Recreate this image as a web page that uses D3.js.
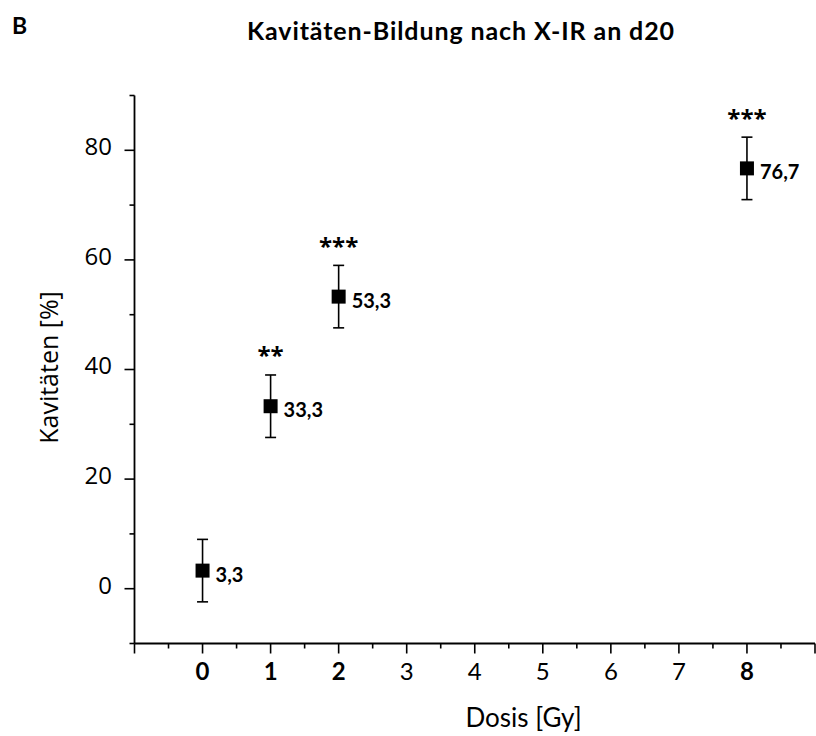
<!DOCTYPE html>
<html>
<head>
<meta charset="utf-8">
<script src="https://cdn.jsdelivr.net/npm/d3@7"></script>
<style>
  body { margin: 0; background: #fff; }
  svg { display: block; }
  text { fill: #000; }
</style>
</head>
<body>
<svg id="chart" width="816" height="736"></svg>
<script>
const doses = [0, 1, 2, 8];
const means = [3.3, 33.3, 53.3, 76.7];
const errors = [5.7, 5.7, 5.7, 5.7];
const valueLabels = ["3,3", "33,3", "53,3", "76,7"];
const stars = ["", "**", "***", "***"];
const xTickValues = [0, 1, 2, 3, 4, 5, 6, 7, 8];
const boldXTicks = [0, 1, 2, 8];
const yTickValues = [0, 20, 40, 60, 80];

const svg = d3.select("#chart");
const x = d3.scaleLinear().domain([-1, 9]).range([134.5, 815]);
const y = d3.scaleLinear().domain([-10, 90]).range([643.5, 95.5]);

const sans = "Lato, 'Open Sans', sans-serif";
const ySans = "'Open Sans', 'Noto Sans', sans-serif";

// Title and panel letter
svg.append("text").attr("x", 12).attr("y", 34)
  .style("font-family", sans).style("font-weight", "bold").style("font-size", "23px")
  .text("B");
svg.append("text").attr("x", 247).attr("y", 40)
  .style("font-family", sans).style("font-weight", "bold").style("font-size", "25px")
  .style("letter-spacing", "0.9px")
  .text("Kavitäten-Bildung nach X-IR an d20");

// X axis
const xMajor = d3.range(-1, 9.001, 1);
const xMinor = d3.range(-0.5, 9, 1);
const gx = svg.append("g").attr("transform", `translate(0,${y(-10)})`);
gx.append("line").attr("x1", x(-1)).attr("x2", x(9)).attr("stroke", "#000").attr("stroke-width", 1.8);
gx.selectAll("line.maj").data(xMajor).join("line").attr("class", "maj")
  .attr("x1", d => x(d)).attr("x2", d => x(d)).attr("y1", 0).attr("y2", 10)
  .attr("stroke", "#000").attr("stroke-width", 1.6);
gx.selectAll("line.min").data(xMinor).join("line").attr("class", "min")
  .attr("x1", d => x(d)).attr("x2", d => x(d)).attr("y1", 0).attr("y2", 5)
  .attr("stroke", "#000").attr("stroke-width", 1.6);
gx.selectAll("text").data(xTickValues).join("text")
  .attr("x", d => x(d)).attr("y", 36.5).attr("text-anchor", "middle")
  .style("font-family", sans).style("font-size", "24px")
  .style("font-weight", d => boldXTicks.includes(d) ? "bold" : "normal")
  .text(d => d);

// Y axis
const yMinor = d3.range(-10, 90.001, 20);
const gy = svg.append("g").attr("transform", `translate(${x(-1)},0)`);
gy.append("line").attr("y1", y(-10)).attr("y2", y(90)).attr("stroke", "#000").attr("stroke-width", 1.8);
gy.selectAll("line.maj").data(yTickValues).join("line").attr("class", "maj")
  .attr("y1", d => y(d)).attr("y2", d => y(d)).attr("x1", 0).attr("x2", -10)
  .attr("stroke", "#000").attr("stroke-width", 1.6);
gy.selectAll("line.min").data(yMinor).join("line").attr("class", "min")
  .attr("y1", d => y(d)).attr("y2", d => y(d)).attr("x1", 0).attr("x2", -5)
  .attr("stroke", "#000").attr("stroke-width", 1.6);
gy.selectAll("text").data(yTickValues).join("text")
  .attr("x", -22.5).attr("y", d => y(d) + 4.8).attr("text-anchor", "end")
  .style("font-family", ySans).style("font-size", "24px")
  .text(d => d);

// Axis titles
svg.append("text").attr("transform", `translate(58,367.5) rotate(-90)`)
  .attr("text-anchor", "middle")
  .style("font-family", ySans).style("font-size", "25px")
  .text("Kavitäten [%]");
svg.append("text").attr("x", 523.5).attr("y", 727).attr("text-anchor", "middle")
  .style("font-family", sans).style("font-size", "26px")
  .text("Dosis [Gy]");

// Data
const data = doses.map((d, i) => ({ dose: d, mean: means[i], err: errors[i], label: valueLabels[i], star: stars[i] }));
const g = svg.append("g");
const pts = g.selectAll("g.pt").data(data).join("g").attr("class", "pt");
pts.append("line")
  .attr("x1", d => x(d.dose)).attr("x2", d => x(d.dose))
  .attr("y1", d => y(d.mean - d.err)).attr("y2", d => y(d.mean + d.err))
  .attr("stroke", "#000").attr("stroke-width", 1.6);
pts.append("line")
  .attr("x1", d => x(d.dose) - 5.5).attr("x2", d => x(d.dose) + 5.5)
  .attr("y1", d => y(d.mean + d.err)).attr("y2", d => y(d.mean + d.err))
  .attr("stroke", "#000").attr("stroke-width", 1.6);
pts.append("line")
  .attr("x1", d => x(d.dose) - 5.5).attr("x2", d => x(d.dose) + 5.5)
  .attr("y1", d => y(d.mean - d.err)).attr("y2", d => y(d.mean - d.err))
  .attr("stroke", "#000").attr("stroke-width", 1.6);
pts.append("rect")
  .attr("x", d => x(d.dose) - 7).attr("y", d => y(d.mean) - 7)
  .attr("width", 14).attr("height", 14).attr("fill", "#000");
pts.append("text")
  .attr("x", d => x(d.dose) + 13).attr("y", d => y(d.mean) + 11)
  .style("font-family", sans).style("font-weight", "bold").style("font-size", "20px")
  .text(d => d.label);
pts.append("text")
  .attr("x", d => x(d.dose)).attr("y", d => y(d.mean + d.err) - 10.5)
  .attr("text-anchor", "middle")
  .style("font-family", ySans).style("font-weight", "bold").style("font-size", "24px")
  .text(d => d.star);
</script>
</body>
</html>
